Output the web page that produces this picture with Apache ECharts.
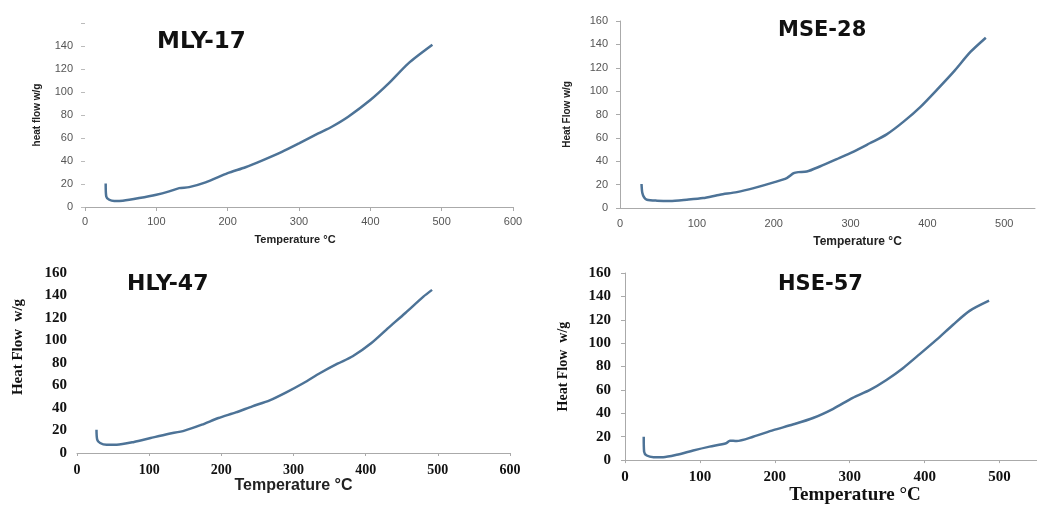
<!DOCTYPE html>
<html>
<head>
<meta charset="utf-8">
<title>Heat flow</title>
<script src="https://cdn.jsdelivr.net/npm/echarts@6/dist/echarts.min.js"></script>
<style>
  html, body { margin: 0; padding: 0; background: #fff; }
  #chart { width: 1037px; height: 506px; }
</style>
</head>
<body>
<div id="chart"></div>
<script>
// values
var panelTitles = ['MLY-17', 'MSE-28', 'HLY-47', 'HSE-57']

var mlyTemp = [29, 29.8, 34, 41, 53, 76, 100, 118, 132, 146, 169, 200, 225, 248, 276, 300, 327, 346, 369, 400, 425, 453, 487]
var mlyHeat = [20.5, 9.2, 6.3, 5.2, 5.5, 7.8, 10.7, 13.6, 16.4, 17.3, 21.4, 29.4, 34.6, 40.4, 48, 55.4, 64, 69.8, 78.5, 93, 107, 124.7, 141]

var mseTemp = [28, 29, 31.5, 35, 48, 65, 87, 108, 130, 152, 174, 200, 217, 226, 232, 243, 260, 282, 304, 325, 347, 369, 391, 412, 434, 456, 476]
var mseHeat = [20.5, 13, 9, 7.1, 6.3, 6, 7.1, 8.5, 11.4, 13.6, 17, 21.9, 25.6, 29.8, 30.7, 31.2, 35.5, 41.8, 48.3, 55.4, 63, 73.9, 86.6, 100.9, 116.5, 133.5, 145.7]

var hlyTemp = [27, 28, 32, 41, 55, 79, 102, 126, 149, 173, 196, 220, 243, 267, 290, 314, 337, 361, 382, 408, 431, 455, 480, 492]
var hlyHeat = [20.7, 11.9, 8.9, 7.4, 7.4, 9.8, 13.3, 16.9, 19.9, 25.2, 31.1, 36.1, 41.5, 46.8, 53.9, 62.2, 71.1, 79.4, 86, 97.8, 111, 124.4, 139, 145]

var hseTemp = [25, 25.5, 29, 38, 51, 69, 91, 113, 135, 140, 149, 171, 198, 224, 251, 278, 304, 327, 349, 371, 393, 416, 438, 460, 486]
var hseHeat = [20, 7.3, 3.9, 2.5, 2.5, 4.5, 8.2, 11.5, 14.4, 16.6, 16.3, 20, 25.6, 30.4, 36, 43.9, 53.2, 60, 68.5, 78.6, 90.4, 103, 115.8, 127.6, 136.3]

var xMax = [600, 540, 600, 550]

var lineColor = '#4d7397'
var sans = '"Liberation Sans", Arial, sans-serif'
var serif = '"Liberation Serif", "Times New Roman", serif'

function pairs(xs, ys) {
  var out = []
  for (var i = 0; i < xs.length; i++) {
    out.push([xs[i], ys[i]])
  }
  return out
}

var chart = echarts.init(document.getElementById('chart'))

var grids = [
  { left: 85, top: 23, width: 428, height: 184 },
  { left: 620, top: 21, width: 415, height: 187 },
  { left: 77, top: 273, width: 433, height: 180 },
  { left: 625, top: 273, width: 412, height: 189 }
]

var xAxes = [
  {
    gridIndex: 0, type: 'value', min: 0, max: xMax[0], interval: 100,
    name: 'Temperature °C', nameLocation: 'middle', nameGap: 27,
    nameTextStyle: { fontFamily: sans, fontWeight: 'bold', fontSize: 11, color: '#222', padding: [0, 8, 0, 0] },
    axisLine: { lineStyle: { color: '#aaa' } },
    axisTick: { lineStyle: { color: '#aaa' }, length: 4 },
    axisLabel: { fontFamily: sans, fontSize: 11, color: '#555', margin: 9 },
    splitLine: { show: false }
  },
  {
    gridIndex: 1, type: 'value', min: 0, max: xMax[1], interval: 100,
    name: 'Temperature °C', nameLocation: 'middle', nameGap: 28,
    nameTextStyle: { fontFamily: sans, fontWeight: 'bold', fontSize: 12, color: '#222', padding: [0, 0, 0, 60] },
    axisLine: { lineStyle: { color: '#aaa' } },
    axisTick: { show: false },
    axisLabel: { fontFamily: sans, fontSize: 11, color: '#555', margin: 10, showMaxLabel: false },
    splitLine: { show: false }
  },
  {
    gridIndex: 2, type: 'value', min: 0, max: xMax[2], interval: 100,
    name: 'Temperature °C', nameLocation: 'middle', nameGap: 19,
    nameTextStyle: { fontFamily: sans, fontWeight: 'bold', fontSize: 16, color: '#222' },
    axisLine: { lineStyle: { color: '#aaa' } },
    axisTick: { lineStyle: { color: '#aaa' }, length: 3 },
    axisLabel: { fontFamily: serif, fontWeight: 'bold', fontSize: 14, color: '#111', margin: 10 },
    splitLine: { show: false }
  },
  {
    gridIndex: 3, type: 'value', min: 0, max: xMax[3], interval: 100,
    name: 'Temperature °C', nameLocation: 'middle', nameGap: 25,
    nameTextStyle: { fontFamily: serif, fontWeight: 'bold', fontSize: 19, color: '#111', padding: [0, 0, 0, 48] },
    axisLine: { lineStyle: { color: '#aaa' } },
    axisTick: { lineStyle: { color: '#aaa' }, length: 3 },
    axisLabel: { fontFamily: serif, fontWeight: 'bold', fontSize: 15, color: '#111', margin: 10, showMaxLabel: false },
    splitLine: { show: false }
  }
]

var yAxes = [
  {
    gridIndex: 0, type: 'value', min: 0, max: 160, interval: 20,
    name: 'heat flow w/g', nameLocation: 'middle', nameGap: 43,
    nameTextStyle: { fontFamily: sans, fontWeight: 'bold', fontSize: 10, color: '#222' },
    axisLine: { show: false },
    axisTick: { show: true, length: 4, lineStyle: { color: '#bbb' } },
    axisLabel: {
      fontFamily: sans, fontSize: 11, color: '#555', margin: 12,
      formatter: function (v) { return v === 160 ? '' : v }
    },
    splitLine: { show: false }
  },
  {
    gridIndex: 1, type: 'value', min: 0, max: 160, interval: 20,
    name: 'Heat Flow w/g', nameLocation: 'middle', nameGap: 48,
    nameTextStyle: { fontFamily: sans, fontWeight: 'bold', fontSize: 10, color: '#222' },
    axisLine: { show: true, lineStyle: { color: '#aaa' } },
    axisTick: { show: true, length: 4, lineStyle: { color: '#aaa' } },
    axisLabel: { fontFamily: sans, fontSize: 11, color: '#555', margin: 12 },
    splitLine: { show: false }
  },
  {
    gridIndex: 2, type: 'value', min: 0, max: 160, interval: 20,
    name: 'Heat Flow  w/g', nameLocation: 'middle', nameGap: 51,
    nameTextStyle: { fontFamily: serif, fontWeight: 'bold', fontSize: 15, color: '#111', padding: [0, 0, 0, 32] },
    axisLine: { show: false },
    axisTick: { show: false },
    axisLabel: { fontFamily: serif, fontWeight: 'bold', fontSize: 15, color: '#111', margin: 10 },
    splitLine: { show: false }
  },
  {
    gridIndex: 3, type: 'value', min: 0, max: 160, interval: 20,
    name: 'Heat Flow  w/g', nameLocation: 'middle', nameGap: 55,
    nameTextStyle: { fontFamily: serif, fontWeight: 'bold', fontSize: 14, color: '#111' },
    axisLine: { show: true, lineStyle: { color: '#aaa' } },
    axisTick: { show: true, length: 4, lineStyle: { color: '#aaa' } },
    axisLabel: { fontFamily: serif, fontWeight: 'bold', fontSize: 15, color: '#111', margin: 14 },
    splitLine: { show: false }
  }
]

var titlePos = [[157, 31], [778, 20], [127, 273], [778, 274]]
var titleSize = [23, 21, 22, 21]
var titles = []
for (var t = 0; t < panelTitles.length; t++) {
  titles.push({
    text: panelTitles[t],
    left: titlePos[t][0],
    top: titlePos[t][1],
    padding: 0,
    textStyle: { fontFamily: '"DejaVu Sans", Verdana, sans-serif', fontWeight: 'bold', fontSize: titleSize[t], color: '#111' }
  })
}

var curves = [pairs(mlyTemp, mlyHeat), pairs(mseTemp, mseHeat), pairs(hlyTemp, hlyHeat), pairs(hseTemp, hseHeat)]
var series = []
for (var s = 0; s < curves.length; s++) {
  series.push({
    name: panelTitles[s],
    type: 'line',
    xAxisIndex: s,
    yAxisIndex: s,
    data: curves[s],
    smooth: 0.25,
    showSymbol: false,
    lineStyle: { color: lineColor, width: 2.5 },
    itemStyle: { color: lineColor }
  })
}

chart.setOption({
  animation: false,
  backgroundColor: '#fff',
  title: titles,
  grid: grids,
  xAxis: xAxes,
  yAxis: yAxes,
  series: series
})
</script>
</body>
</html>
